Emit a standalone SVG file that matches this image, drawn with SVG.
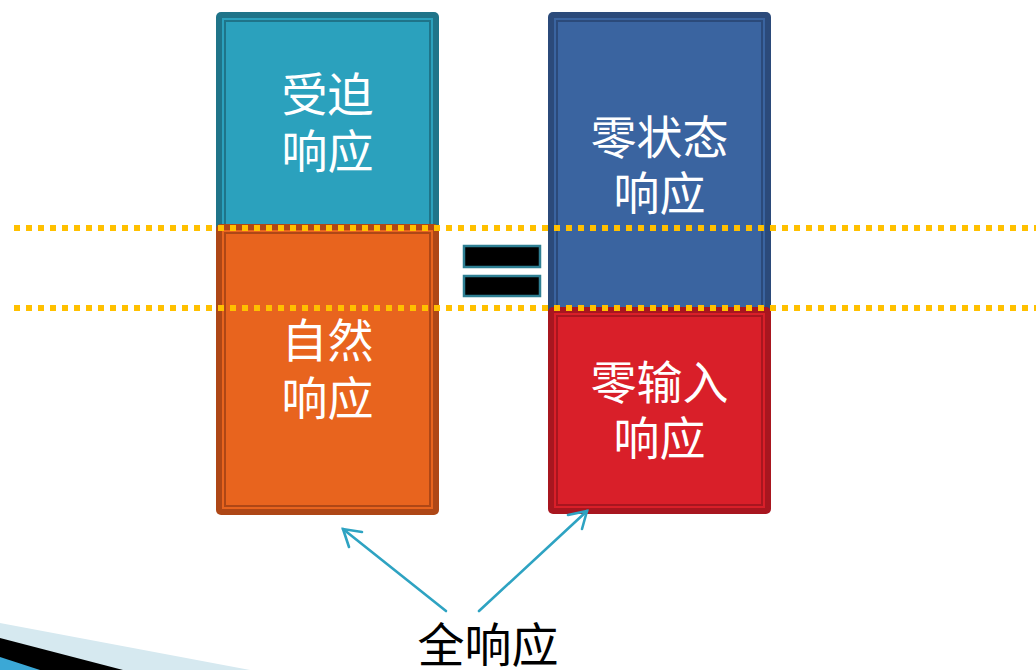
<svg xmlns="http://www.w3.org/2000/svg" width="1036" height="670" viewBox="0 0 1036 670">
<style>
.t{font-family:"Liberation Sans","Noto Sans CJK SC",sans-serif;font-size:46px;fill:#ffffff;text-anchor:middle}
.b{font-family:"Liberation Sans","Noto Sans CJK SC",sans-serif;font-size:47px;fill:#000000;text-anchor:middle}
.dot{stroke:#ffc000;stroke-width:6;stroke-dasharray:6 6;fill:none}
.arr{stroke:#2ea3c2;stroke-width:2.6;fill:none;stroke-linecap:round}
.eq{fill:#000000;stroke:#2e7f93;stroke-width:2.5}
</style>
<rect width="1036" height="670" fill="#ffffff"/>
<g id="deco">
<polygon points="0,623 250,670 0,670" fill="#d6e9f0"/>
<polygon points="0,638 123,670 0,670" fill="#000000"/>
<polygon points="0,657 40,670 0,670" fill="#3ba8d6"/>
</g>
<g id="forced">
<rect x="216" y="12" width="223" height="240" rx="5" fill="#1f7489"/>
<rect x="222" y="18" width="211" height="230" fill="#2ba1bd"/>
<rect x="225" y="21" width="205" height="225" fill="none" stroke="#1f7489" stroke-width="2"/>
<text class="t" x="327.5" y="111">受迫</text>
<text class="t" x="327.5" y="168">响应</text>
</g>
<g id="natural">
<rect x="216" y="224" width="223" height="291" rx="5" fill="#ae4716"/>
<rect x="222" y="230" width="211" height="279" fill="#e8641e"/>
<rect x="225" y="233" width="205" height="273" fill="none" stroke="#ae4716" stroke-width="2"/>
<text class="t" x="327.5" y="357">自然</text>
<text class="t" x="327.5" y="415">响应</text>
</g>
<g id="zerostate">
<rect x="548" y="12" width="223" height="310" rx="5" fill="#2b4a7a"/>
<rect x="554" y="18" width="211" height="300" fill="#3a64a0"/>
<rect x="557" y="21" width="205" height="295" fill="none" stroke="#2b4a7a" stroke-width="2"/>
<text class="t" x="659.5" y="154">零状态</text>
<text class="t" x="659.5" y="210">响应</text>
</g>
<g id="zeroinput">
<rect x="548" y="307" width="223" height="207" rx="5" fill="#a8161f"/>
<rect x="554" y="313" width="211" height="195" fill="#d91f29"/>
<rect x="557" y="316" width="205" height="189" fill="none" stroke="#a8161f" stroke-width="2"/>
<text class="t" x="659.5" y="399">零输入</text>
<text class="t" x="659.5" y="455">响应</text>
</g>
<g id="guides">
<line class="dot" x1="14" y1="228" x2="1036" y2="228"/>
<line class="dot" x1="14" y1="308" x2="1036" y2="308"/>
</g>
<g id="equals">
<rect class="eq" x="464" y="246" width="76" height="21"/>
<rect class="eq" x="464" y="276" width="76" height="20"/>
</g>
<g id="connectors">
<line class="arr" x1="446" y1="611" x2="343" y2="529"/>
<polyline class="arr" points="362,532 343,529 349,547"/>
<line class="arr" x1="479" y1="611" x2="587" y2="511"/>
<polyline class="arr" points="568,515 587,511 582,529"/>
</g>
<g id="total">
<text class="b" x="488" y="662">全响应</text>
</g>
</svg>
